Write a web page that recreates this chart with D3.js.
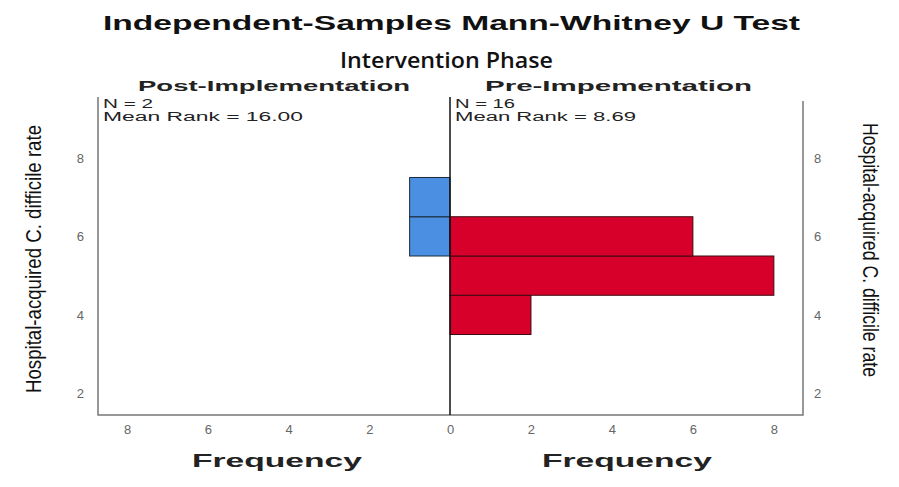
<!DOCTYPE html>
<meta charset="utf-8">
<script src="https://d3js.org/d3.v7.min.js"></script>
<style>
  body { margin: 0; background: #fff; }
  text { font-family: "Liberation Sans", Arial, sans-serif; }
</style>
<div id="chart"></div>
<script>

// bins of the rate (lower edges, width 1)
var binLow = [3.5, 4.5, 5.5, 6.5];
var postCounts = [0, 0, 1, 1];
var preCounts = [2, 8, 6, 0];
var yTicks = [2, 4, 6, 8];
var xTicks = [0, 2, 4, 6, 8];
var groups = ["Post-Implementation", "Pre-Impementation"];
var groupStats = [["N = 2", "Mean Rank = 16.00"], ["N = 16", "Mean Rank = 8.69"]];

var W = 899, H = 487;
var pTop = 97, pBottom = 415, pMid = 450, pLeft = 98, pRight = 803;

var svg = d3.select("#chart").append("svg")
  .attr("width", W).attr("height", H);

var y = d3.scaleLinear().domain([1.45, 9.55]).range([pBottom, pTop]);
var xPre = d3.scaleLinear().domain([0, 8.72]).range([pMid, pRight]);
var xPost = d3.scaleLinear().domain([0, 8.72]).range([pMid, pLeft]);

// titles
svg.append("text").attr("x", 103).attr("y", 30)
  .attr("font-size", 21).attr("font-weight", "bold").attr("fill", "#111")
  .attr("textLength", 697).attr("lengthAdjust", "spacingAndGlyphs")
  .text("Independent-Samples Mann-Whitney U Test");

svg.append("text").attr("x", 340).attr("y", 68)
  .style("font-family", "'Open Sans', sans-serif")
  .attr("font-size", 22).attr("font-weight", 600).attr("fill", "#111")
  .attr("textLength", 213).attr("lengthAdjust", "spacingAndGlyphs")
  .text("Intervention Phase");

var groupX = [[138, 272], [485, 267]];
groups.forEach(function(g, i) {
  svg.append("text").attr("x", groupX[i][0]).attr("y", 91)
    .attr("font-size", 15).attr("font-weight", "bold").attr("fill", "#222")
    .attr("textLength", groupX[i][1]).attr("lengthAdjust", "spacingAndGlyphs")
    .text(g);
});

// frame
svg.append("path")
  .attr("d", "M" + pLeft + "," + pTop + "V" + pBottom + "H" + pRight + "V" + (pTop + 4))
  .attr("fill", "none").attr("stroke", "#777").attr("stroke-width", 1.5);

// bars
var bw = y(0) - y(1);
svg.selectAll(".post").data(binLow).enter().append("rect")
  .filter(function(d, i) { return postCounts[i] > 0; })
  .attr("x", function(d) { return xPost(postCounts[binLow.indexOf(d)]); })
  .attr("y", function(d) { return y(d + 1); })
  .attr("width", function(d) { return xPost(0) - xPost(postCounts[binLow.indexOf(d)]); })
  .attr("height", bw)
  .attr("fill", "#4a8fe2").attr("stroke", "#1a2a3a").attr("stroke-width", 1);

svg.selectAll(".pre").data(binLow).enter().append("rect")
  .filter(function(d, i) { return preCounts[i] > 0; })
  .attr("x", xPre(0))
  .attr("y", function(d) { return y(d + 1); })
  .attr("width", function(d) { return xPre(preCounts[binLow.indexOf(d)]) - xPre(0); })
  .attr("height", bw)
  .attr("fill", "#d6002b").attr("stroke", "#3a0a10").attr("stroke-width", 1);

// center line
svg.append("line").attr("x1", pMid).attr("x2", pMid).attr("y1", pTop).attr("y2", pBottom)
  .attr("stroke", "#111").attr("stroke-width", 1.5);

// group stats
groupStats.forEach(function(s, i) {
  var x0 = i == 0 ? 103 : 455;
  var lens = i == 0 ? [50, 200] : [60, 181];
  s.forEach(function(t, j) {
    svg.append("text").attr("x", x0).attr("y", 108 + j * 13)
      .attr("font-size", 12).attr("fill", "#222")
      .attr("textLength", lens[j]).attr("lengthAdjust", "spacingAndGlyphs")
      .text(t);
  });
});

// axes
function styleAxis(g) {
  g.select(".domain").remove();
  g.selectAll("text").attr("fill", "#666").attr("font-size", 13)
    .style("font-family", "'Liberation Sans', Arial, sans-serif");
}
svg.append("g").attr("transform", "translate(0," + (pBottom + 4) + ")")
  .call(d3.axisBottom(xPost).tickValues(xTicks.slice(1)).tickSize(0).tickPadding(6))
  .call(styleAxis);
svg.append("g").attr("transform", "translate(0," + (pBottom + 4) + ")")
  .call(d3.axisBottom(xPre).tickValues(xTicks).tickSize(0).tickPadding(6))
  .call(styleAxis);
svg.append("g").attr("transform", "translate(" + (pLeft - 14) + ",0)")
  .call(d3.axisLeft(y).tickValues(yTicks).tickSize(0).tickPadding(0))
  .call(styleAxis);
svg.append("g").attr("transform", "translate(" + (pRight + 11) + ",0)")
  .call(d3.axisRight(y).tickValues(yTicks).tickSize(0).tickPadding(0))
  .call(styleAxis);

// axis titles
[277, 627].forEach(function(cx) {
  svg.append("text").attr("x", cx).attr("y", 467).attr("text-anchor", "middle")
    .attr("font-size", 19).attr("font-weight", "bold").attr("fill", "#222")
    .attr("textLength", 170).attr("lengthAdjust", "spacingAndGlyphs")
    .text("Frequency");
});

var yTitle = "Hospital-acquired C. difficile rate";
svg.append("text").attr("transform", "translate(41,259) rotate(-90)")
  .attr("text-anchor", "middle")
  .attr("font-size", 22).attr("fill", "#111")
  .attr("textLength", 268).attr("lengthAdjust", "spacingAndGlyphs")
  .text(yTitle);
svg.append("text").attr("transform", "translate(863,250) rotate(90)")
  .attr("text-anchor", "middle")
  .attr("font-size", 22).attr("fill", "#111")
  .attr("textLength", 254).attr("lengthAdjust", "spacingAndGlyphs")
  .text(yTitle);

</script>
